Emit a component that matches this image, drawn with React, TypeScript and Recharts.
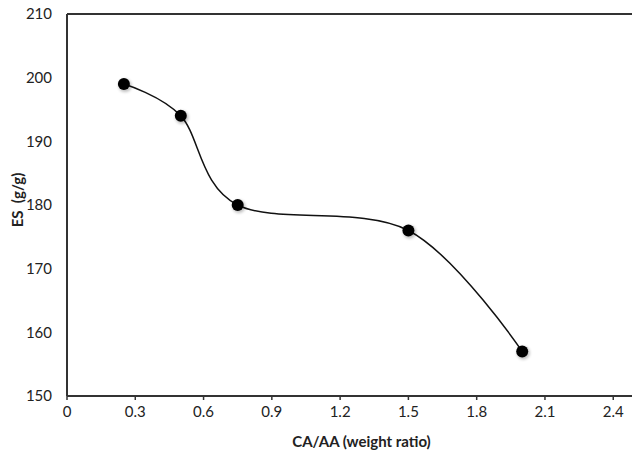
import React from 'react';
import { LineChart, Line, XAxis, YAxis, ReferenceLine } from 'recharts';

const ratios = [0.25, 0.5, 0.75, 1.5, 2.0];
const esValues = [199, 194, 180, 176, 157];
const xTicks = [0, 0.3, 0.6, 0.9, 1.2, 1.5, 1.8, 2.1, 2.4];
const yTicks = [150, 160, 170, 180, 190, 200, 210];

const data = ratios.map((r, i) => ({ ratio: r, es: esValues[i] }));

const FONT = "Lato, 'Open Sans', sans-serif";
const AXIS = '#333333';

// Cardinal (Catmull-Rom like, tension 0) curve factory, similar to Excel's smoothing
class CardinalCurve {
  _context: any; _k: number; _line: number = NaN; _point = 0;
  _x0 = NaN; _x1 = NaN; _x2 = NaN; _y0 = NaN; _y1 = NaN; _y2 = NaN;
  constructor(context: any) { this._context = context; this._k = 1 / 6; }
  areaStart() { this._line = 0; }
  areaEnd() { this._line = NaN; }
  lineStart() {
    this._x0 = this._x1 = this._x2 = this._y0 = this._y1 = this._y2 = NaN;
    this._point = 0;
  }
  _bez(x: number, y: number) {
    this._context.bezierCurveTo(
      this._x1 + this._k * (this._x2 - this._x0),
      this._y1 + this._k * (this._y2 - this._y0),
      this._x2 + this._k * (this._x1 - x),
      this._y2 + this._k * (this._y1 - y),
      this._x2,
      this._y2
    );
  }
  lineEnd() {
    switch (this._point) {
      case 2: this._context.lineTo(this._x2, this._y2); break;
      case 3: this._bez(this._x1, this._y1); break;
    }
    if (this._line || (this._line !== 0 && this._point === 1)) this._context.closePath();
    this._line = 1 - this._line;
  }
  point(x: number, y: number) {
    x = +x; y = +y;
    switch (this._point) {
      case 0: this._point = 1; this._line ? this._context.lineTo(x, y) : this._context.moveTo(x, y); break;
      case 1: this._point = 2; this._x1 = x; this._y1 = y; break;
      case 2: this._point = 3; this._bez(x, y); break;
      default: this._bez(x, y); break;
    }
    this._x0 = this._x1; this._x1 = this._x2; this._x2 = x;
    this._y0 = this._y1; this._y1 = this._y2; this._y2 = y;
  }
}
const cardinal: any = (context: any) => new CardinalCurve(context);

const Dot = (props: any) => {
  const { cx, cy, index } = props;
  if (cx == null || cy == null) return null;
  return (
    <g key={`dot-${index}`}>
      <circle cx={cx + 1.2} cy={cy + 1.5} r={6.5} fill="#000" opacity={0.25} filter="url(#dotBlur)" />
      <circle cx={cx} cy={cy} r={6} fill="#000" />
    </g>
  );
};

export default function App() {
  return (
    <div style={{ position: 'absolute', left: 0, top: 0, width: 632, height: 450, overflow: 'hidden', background: '#fff' }}>
      <svg width={0} height={0} style={{ position: 'absolute' }}>
        <defs>
          <filter id="dotBlur" x="-50%" y="-50%" width="200%" height="200%">
            <feGaussianBlur stdDeviation="1.5" />
          </filter>
        </defs>
      </svg>
      <LineChart width={640} height={450} data={data} margin={{ top: 14, right: 4, bottom: 0, left: 0 }}>
        <ReferenceLine y={210} stroke={AXIS} strokeWidth={2} ifOverflow="visible" />
        <XAxis
          dataKey="ratio"
          type="number"
          domain={[0, 2.5]}
          ticks={xTicks}
          interval={0}
          allowDataOverflow
          height={54}
          stroke={AXIS}
          axisLine={{ stroke: AXIS, strokeWidth: 2 }}
          tickLine={{ stroke: AXIS, strokeWidth: 1.5 }}
          tickSize={4}
          tickMargin={6}
          tick={{ fill: '#222', fontSize: 15, fontFamily: FONT }}
          label={{
            content: (p: any) => {
              const vb = p.viewBox || { x: 67, y: 396, width: 569, height: 54 };
              return (
                <text x={vb.x + vb.width / 2 + 10} y={441} textAnchor="middle" dominantBaseline="central"
                  fontSize={15} fontWeight="bold" fontFamily={FONT} fill="#222">
                  CA/AA (weight ratio)
                </text>
              );
            },
          }}
        />
        <YAxis
          type="number"
          domain={[150, 210]}
          ticks={yTicks}
          interval={0}
          width={67}
          axisLine={{ stroke: AXIS, strokeWidth: 2 }}
          tickLine={false}
          tickSize={4}
          tickMargin={11}
          tick={{ fill: '#222', fontSize: 15, fontFamily: FONT }}
          label={{
            content: (p: any) => {
              const vb = p.viewBox || { x: 0, y: 14, width: 67, height: 382 };
              const cx = 17;
              const cy = vb.y + vb.height / 2 - 5;
              return (
                <text x={cx} y={cy} textAnchor="middle" dominantBaseline="central"
                  transform={`rotate(-90, ${cx}, ${cy})`}
                  fontSize={15} fontWeight="bold" fontFamily={FONT} fill="#222" style={{ whiteSpace: 'pre' }}>
                  {'ES  (g/g)'}
                </text>
              );
            },
          }}
        />
        <Line
          dataKey="es"
          type={cardinal}
          stroke="#111"
          strokeWidth={1.5}
          dot={<Dot />}
          activeDot={false}
          isAnimationActive={false}
        />
      </LineChart>
    </div>
  );
}
